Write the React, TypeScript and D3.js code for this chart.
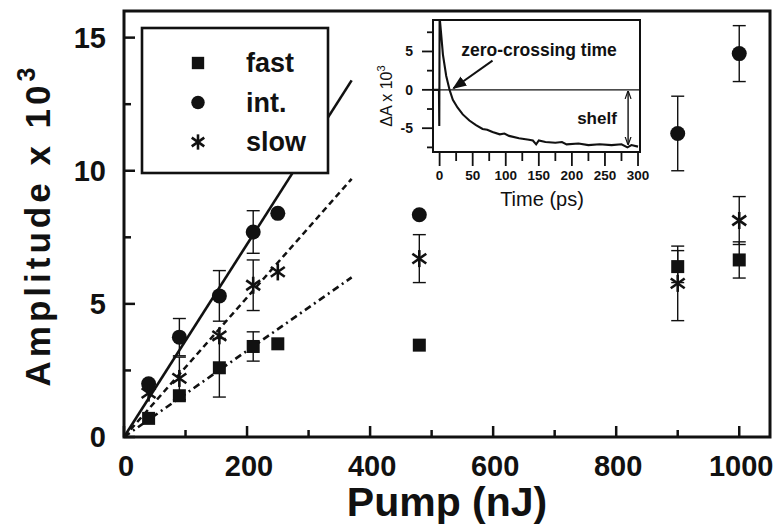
import React, { useRef, useEffect } from "react";
import * as d3 from "d3";

// main plot data
const pump = [40, 90, 155, 210, 250, 480, 900, 1000];
const fastAmp = [0.7, 1.55, 2.6, 3.4, 3.5, 3.45, 6.4, 6.65];
const fastErr = [0, 0, 1.1, 0.55, 0, 0, 0.6, 0.68];
const intAmp = [2.0, 3.75, 5.3, 7.7, 8.4, 8.35, 11.4, 14.4];
const intErr = [0, 0.7, 0.95, 0.8, 0, 0, 1.4, 1.05];
const slowAmp = [1.65, 2.2, 3.8, 5.7, 6.2, 6.7, 5.77, 8.13];
const slowErr = [0, 0.8, 0, 0.95, 0, 0.9, 1.4, 0.9];

// linear fits through the origin, drawn up to fitEnd
const fitSlopes = [0.0162, 0.0362, 0.0262];
const fitEnd = 370;

const seriesNames = ["fast", "int.", "slow"];

const xTicks = [0, 200, 400, 600, 800, 1000];
const xMinorTicks = [100, 300, 500, 700, 900];
const yTicks = [0, 5, 10, 15];
const yMinorTicks = [2.5, 7.5, 12.5];

// inset trace
const insetTime = [-10, -1, -0.5, 0, 2, 5, 10, 15, 20, 27, 35, 45, 55, 65, 72, 80, 91, 98, 105, 120, 135, 141, 146, 150, 160, 175, 185, 192, 210, 225, 242, 260, 275, 284, 290, 300];
const insetSignal = [0, 0, -4.7, 9.5, 7.6, 4.6, 1.8, 0, -1.3, -2.3, -3.2, -4.0, -4.6, -5.1, -5.2, -5.5, -5.8, -5.7, -6.0, -6.3, -6.5, -6.6, -7.1, -6.6, -6.8, -6.9, -6.8, -7.1, -7.0, -7.2, -7.1, -7.2, -7.1, -7.5, -7.2, -7.4];
const insetXTicks = [0, 50, 100, 150, 200, 250, 300];
const insetXMinor = [25, 75, 125, 175, 225, 275];
const insetYTicks = [-5, 0, 5];
const insetYMinor = [-7.5, -2.5, 2.5, 7.5];

const W = 777;
const H = 526;
const FONT = "'Liberation Sans', Arial, Helvetica, sans-serif";

const App = () => {
  const svgRef = useRef<SVGSVGElement>(null);

  useEffect(() => {
    const svg = d3.select(svgRef.current);
    svg.selectAll("*").remove();

    const x = d3.scaleLinear().domain([0, 1050]).range([124, 770]);
    const y = d3.scaleLinear().domain([0, 16]).range([437, 11]);

    const series = seriesNames.map((name, i) => ({
      name,
      values: [fastAmp, intAmp, slowAmp][i],
      errs: [fastErr, intErr, slowErr][i],
      shape: ["square", "circle", "star"][i],
      slope: fitSlopes[i],
      dash: ["7,4,2,4", null, "6,4"][i],
    }));

    const drawMarker = (g, shape, cx, cy, s = 1) => {
      if (shape === "square") {
        g.append("rect")
          .attr("x", cx - 6.5 * s)
          .attr("y", cy - 6.5 * s)
          .attr("width", 13 * s)
          .attr("height", 13 * s)
          .attr("fill", "#111");
      } else if (shape === "circle") {
        g.append("circle").attr("cx", cx).attr("cy", cy).attr("r", 7.5 * s).attr("fill", "#111");
      } else {
        const r = 8.5 * s;
        [90, 35, 145].forEach((a) => {
          const rad = (a * Math.PI) / 180;
          g.append("line")
            .attr("x1", cx - r * Math.cos(rad))
            .attr("y1", cy - r * Math.sin(rad))
            .attr("x2", cx + r * Math.cos(rad))
            .attr("y2", cy + r * Math.sin(rad))
            .attr("stroke", "#111")
            .attr("stroke-width", 2.6);
        });
      }
    };

    // frame
    svg.append("rect")
      .attr("x", x(0))
      .attr("y", y(16))
      .attr("width", x(1050) - x(0))
      .attr("height", y(0) - y(16))
      .attr("fill", "none")
      .attr("stroke", "#111")
      .attr("stroke-width", 3);

    // ticks (inward)
    const ax = svg.append("g").attr("stroke", "#111").attr("stroke-width", 2.5);
    xTicks.forEach((t) => ax.append("line").attr("x1", x(t)).attr("x2", x(t)).attr("y1", y(0)).attr("y2", y(0) - 11));
    xMinorTicks.forEach((t) => ax.append("line").attr("x1", x(t)).attr("x2", x(t)).attr("y1", y(0)).attr("y2", y(0) - 7));
    yTicks.forEach((t) => ax.append("line").attr("x1", x(0)).attr("x2", x(0) + 11).attr("y1", y(t)).attr("y2", y(t)));
    yMinorTicks.forEach((t) => ax.append("line").attr("x1", x(0)).attr("x2", x(0) + 7).attr("y1", y(t)).attr("y2", y(t)));

    const labels = svg.append("g").attr("font-family", FONT).attr("font-weight", "bold").attr("fill", "#111");
    xTicks.forEach((t) =>
      labels.append("text").attr("x", x(t) + 2).attr("y", 476).attr("text-anchor", "middle").attr("font-size", 29).text(t)
    );
    yTicks.forEach((t) =>
      labels.append("text").attr("x", 106).attr("y", y(t) + 10).attr("text-anchor", "end").attr("font-size", 29).text(t)
    );

    labels.append("text")
      .attr("x", 447)
      .attr("y", 516)
      .attr("text-anchor", "middle")
      .attr("font-size", 41)
      .text("Pump (nJ)");

    const yl = labels.append("text")
      .attr("transform", "translate(50,225) rotate(-90)")
      .attr("text-anchor", "middle")
      .attr("font-size", 35)
      .attr("letter-spacing", 4);
    yl.append("tspan").text("Amplitude x 10");
    yl.append("tspan").attr("font-size", 25).attr("dy", -15).text("3");

    // error bars
    const eb = svg.append("g").attr("stroke", "#111").attr("stroke-width", 1.4);
    series.forEach((s) => {
      pump.forEach((p, i) => {
        const e = s.errs[i];
        if (!e) return;
        const cx = x(p);
        const y1 = y(s.values[i] - e);
        const y2 = y(s.values[i] + e);
        eb.append("line").attr("x1", cx).attr("x2", cx).attr("y1", y1).attr("y2", y2);
        eb.append("line").attr("x1", cx - 6.5).attr("x2", cx + 6.5).attr("y1", y1).attr("y2", y1);
        eb.append("line").attr("x1", cx - 6.5).attr("x2", cx + 6.5).attr("y1", y2).attr("y2", y2);
      });
    });

    // fit lines
    series.forEach((s) => {
      const line = d3.line<number>().x((d) => x(d)).y((d) => y(d * s.slope));
      const path = svg.append("path")
        .attr("d", line([0, fitEnd]))
        .attr("fill", "none")
        .attr("stroke", "#111")
        .attr("stroke-width", 2.6);
      if (s.dash) path.attr("stroke-dasharray", s.dash);
    });

    // points
    const pts = svg.append("g");
    series.forEach((s) => {
      pump.forEach((p, i) => drawMarker(pts, s.shape, x(p), y(s.values[i])));
    });

    // legend
    const lg = svg.append("g");
    lg.append("rect")
      .attr("x", 142)
      .attr("y", 28)
      .attr("width", 186)
      .attr("height", 145)
      .attr("fill", "#fff")
      .attr("stroke", "#111")
      .attr("stroke-width", 2.6);
    series.forEach((s, i) => {
      const cy = 63 + i * 39.5;
      drawMarker(lg, s.shape, 198, cy, s.shape === "square" ? 0.95 : 0.9);
      lg.append("text")
        .attr("x", 246)
        .attr("y", cy + 9)
        .attr("font-family", FONT)
        .attr("font-weight", "bold")
        .attr("font-size", 27)
        .attr("fill", "#111")
        .text(s.name);
    });

    // inset
    const ix = d3.scaleLinear().domain([-10, 303]).range([433, 640]);
    const iy = d3.scaleLinear().domain([-8.1, 9.1]).range([152, 20]);
    const ins = svg.append("g");

    const defs = svg.append("defs");
    defs.append("clipPath").attr("id", "insetClip")
      .append("rect").attr("x", 433).attr("y", 20).attr("width", 207).attr("height", 132);
    defs.append("marker")
      .attr("id", "arrowHead")
      .attr("viewBox", "0 0 10 10")
      .attr("refX", 9).attr("refY", 5)
      .attr("markerWidth", 7).attr("markerHeight", 7)
      .attr("orient", "auto")
      .append("path").attr("d", "M0,1 L10,5 L0,9 Z").attr("fill", "#111");
    defs.append("marker")
      .attr("id", "openHead")
      .attr("viewBox", "0 0 10 10")
      .attr("refX", 9).attr("refY", 5)
      .attr("markerWidth", 6).attr("markerHeight", 6)
      .attr("orient", "auto-start-reverse")
      .append("path").attr("d", "M0,1.5 L10,5 L0,8.5").attr("fill", "none").attr("stroke", "#111").attr("stroke-width", 1.4);

    ins.append("rect")
      .attr("x", 433).attr("y", 20).attr("width", 207).attr("height", 132)
      .attr("fill", "#fff").attr("stroke", "#111").attr("stroke-width", 2);

    ins.append("line")
      .attr("x1", ix(-10)).attr("x2", ix(303)).attr("y1", iy(0)).attr("y2", iy(0))
      .attr("stroke", "#111").attr("stroke-width", 1.4);

    const trace = d3.line<number>().x((d, i) => ix(insetTime[i])).y((d) => iy(d));
    ins.append("path")
      .attr("d", trace(insetSignal))
      .attr("clip-path", "url(#insetClip)")
      .attr("fill", "none")
      .attr("stroke", "#111")
      .attr("stroke-width", 2.1);

    const it = ins.append("g").attr("stroke", "#111").attr("stroke-width", 1.8);
    insetXTicks.forEach((t) => it.append("line").attr("x1", ix(t)).attr("x2", ix(t)).attr("y1", 152).attr("y2", 166));
    insetXMinor.forEach((t) => it.append("line").attr("x1", ix(t)).attr("x2", ix(t)).attr("y1", 152).attr("y2", 161));
    insetYTicks.forEach((t) => it.append("line").attr("x1", 433).attr("x2", 422).attr("y1", iy(t)).attr("y2", iy(t)));
    insetYMinor.forEach((t) => it.append("line").attr("x1", 433).attr("x2", 427).attr("y1", iy(t)).attr("y2", iy(t)));

    const itxt = ins.append("g").attr("font-family", FONT).attr("font-weight", "bold").attr("fill", "#111");
    insetXTicks.forEach((t) =>
      itxt.append("text").attr("x", ix(t)).attr("y", 180).attr("text-anchor", "middle").attr("font-size", 13.5).text(t)
    );
    insetYTicks.forEach((t) =>
      itxt.append("text").attr("x", 413).attr("y", iy(t) + 5).attr("text-anchor", "end").attr("font-size", 14).text(t)
    );
    itxt.append("text")
      .attr("x", 542).attr("y", 206).attr("text-anchor", "middle")
      .attr("font-size", 20).attr("font-weight", "normal").text("Time (ps)");
    const iyl = itxt.append("text")
      .attr("transform", "translate(392,96) rotate(-90)")
      .attr("text-anchor", "middle")
      .attr("font-size", 16)
      .attr("font-weight", "normal");
    iyl.append("tspan").text("\u0394A x 10");
    iyl.append("tspan").attr("font-size", 11).attr("dy", -7).text("3");

    itxt.append("text")
      .attr("x", 539).attr("y", 56).attr("text-anchor", "middle")
      .attr("font-size", 17.5).text("zero-crossing time");
    itxt.append("text")
      .attr("x", 597).attr("y", 124).attr("text-anchor", "middle")
      .attr("font-size", 17).text("shelf");

    ins.append("line")
      .attr("x1", ix(80)).attr("y1", iy(3.8))
      .attr("x2", ix(21)).attr("y2", iy(0.2))
      .attr("stroke", "#111").attr("stroke-width", 2)
      .attr("marker-end", "url(#arrowHead)");
    ins.append("line")
      .attr("x1", ix(285)).attr("y1", iy(-0.2))
      .attr("x2", ix(285)).attr("y2", iy(-7.1))
      .attr("stroke", "#111").attr("stroke-width", 1.4)
      .attr("marker-start", "url(#openHead)")
      .attr("marker-end", "url(#openHead)");
  }, []);

  return (
    <svg
      ref={svgRef}
      width={W}
      height={H}
      style={{ position: "absolute", left: 0, top: 0, background: "#fff" }}
    />
  );
};

export default App;
